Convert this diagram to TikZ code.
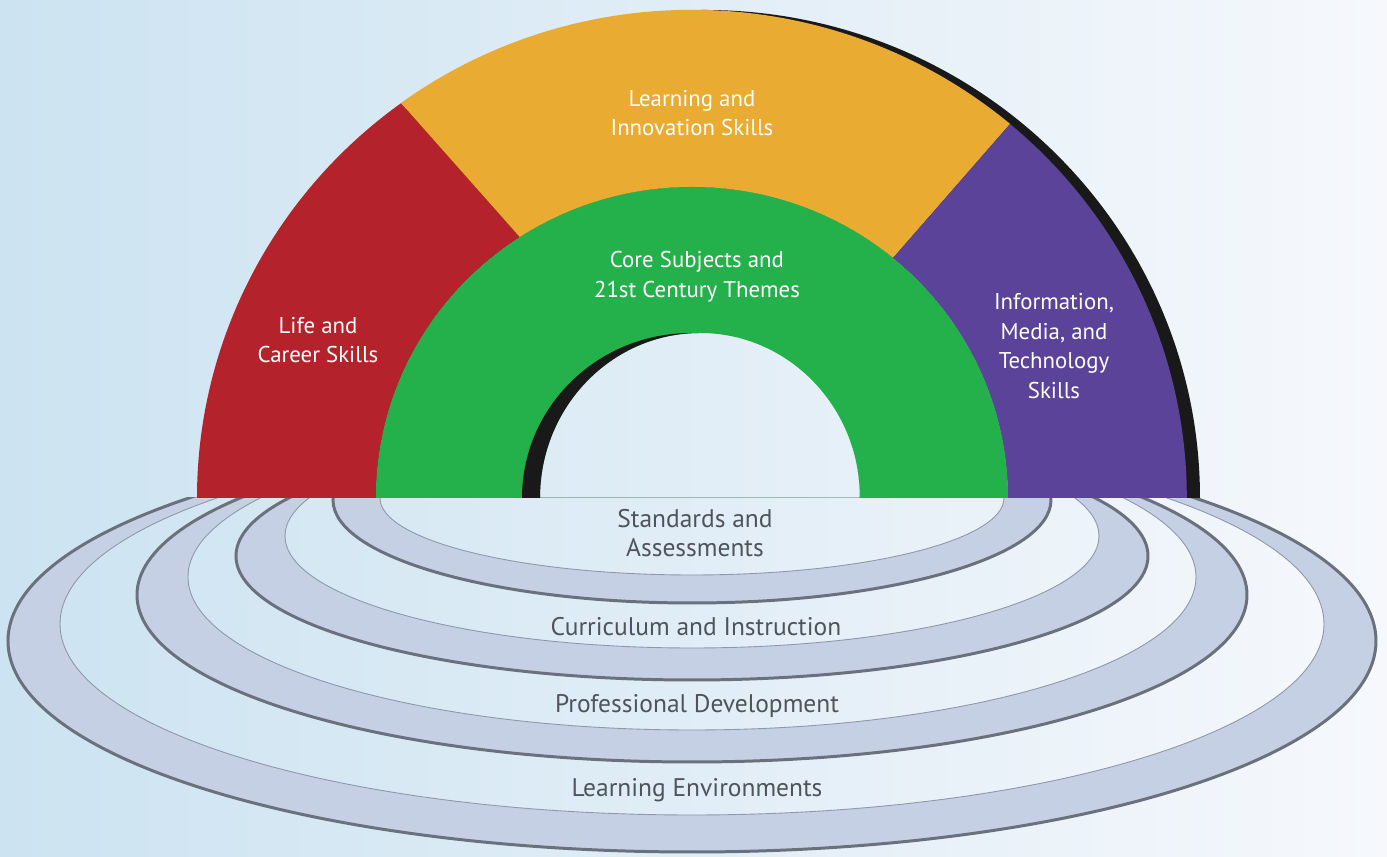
\documentclass[tikz,border=0pt]{standalone}
\usepackage{fontspec}
\setmainfont{PT Sans}
\definecolor{lifered}{HTML}{B4232C}
\definecolor{learnyellow}{HTML}{E9AB32}
\definecolor{coregreen}{HTML}{24B14B}
\definecolor{mediapurple}{HTML}{5A4398}
\definecolor{ringfill}{HTML}{C6D0E4}
\definecolor{ringedge}{HTML}{6B717C}
\definecolor{ringline}{HTML}{8F97A8}
\definecolor{ringgray}{HTML}{4F545C}
\definecolor{bgleft}{HTML}{CCE3F1}
\definecolor{bgright}{HTML}{F6F8FC}
\begin{document}
\begin{tikzpicture}[x=0.02cm, y=0.02cm,
        archtext/.style={text=white, align=center, font=\fontsize{13}{17}\selectfont},
        ringtext/.style={text=ringgray, align=center, font=\fontsize{14.5}{16.5}\selectfont},
        ringband/.style={fill=ringfill, even odd rule},
        ringrim/.style={draw=ringedge, line width=1.7pt},
        ringinner/.style={draw=ringline, line width=0.5pt}]
        \useasboundingbox (-692,-359) rectangle (695,498) ;
        \shade[left color=bgleft, right color=bgright] (-692,-359) rectangle (695,498) ;
        % the four rings under the arch
        \begin{scope}
        \clip (-692,-359) rectangle (695,0) ;
        \fill[ringband] (0,-143) ellipse [x radius=684, y radius=211] (0,-126) ellipse [x radius=632, y radius=191] ;
        \draw[ringrim] (0,-143) ellipse [x radius=684, y radius=211] ;
        \draw[ringinner] (0,-126) ellipse [x radius=632, y radius=191] ;
        \fill[ringband] (0,-97) ellipse [x radius=555, y radius=167] (0,-79) ellipse [x radius=504, y radius=153] ;
        \draw[ringrim] (0,-97) ellipse [x radius=555, y radius=167] ;
        \draw[ringinner] (0,-79) ellipse [x radius=504, y radius=153] ;
        \fill[ringband] (0,-58) ellipse [x radius=456, y radius=124] (0,-38) ellipse [x radius=407, y radius=112] ;
        \draw[ringrim] (0,-58) ellipse [x radius=456, y radius=124] ;
        \draw[ringinner] (0,-38) ellipse [x radius=407, y radius=112] ;
        \fill[ringband] (0,-2) ellipse [x radius=359, y radius=103] (0,0) ellipse [x radius=312, y radius=77] ;
        \draw[ringrim] (0,-2) ellipse [x radius=359, y radius=103] ;
        \draw[ringinner] (0,0) ellipse [x radius=312, y radius=77] ;
        \end{scope}
        % the arch
        \fill[black!90, even odd rule] (-482,0) arc[start angle=180, end angle=0, x radius=495, y radius=488] -- cycle (-316,0) arc[start angle=180, end angle=0, x radius=316, y radius=311] -- cycle ;
        \fill[lifered] (-495,0) arc[start angle=180, end angle=126, x radius=495, y radius=488] -- (-172,261) arc[start angle=123, end angle=180, x radius=316, y radius=311] -- cycle ;
        \fill[learnyellow] (-291,395) arc[start angle=126, end angle=50, x radius=495, y radius=488] -- (201,240) arc[start angle=50.5, end angle=123, x radius=316, y radius=311] -- cycle ;
        \fill[mediapurple] (318,374) arc[start angle=50, end angle=0, x radius=495, y radius=488] -- (316,0) arc[start angle=0, end angle=50.5, x radius=316, y radius=311] -- cycle ;
        \fill[coregreen, even odd rule] (-316,0) arc[start angle=180, end angle=0, x radius=316, y radius=311] -- cycle (-152,0) arc[start angle=180, end angle=0, x radius=160, y radius=165] -- cycle ;
        \begin{scope}
        \clip (-170,0) arc[start angle=180, end angle=0, x radius=169, y radius=165] -- cycle ;
        \fill[black!90, even odd rule] (-200,0) rectangle (200,200) (-152,0) arc[start angle=180, end angle=0, x radius=160, y radius=165] -- cycle ;
        \end{scope}
        % labels
        \node[archtext] (learning) at (0,385) {Learning and\\Innovation Skills} ;
        \node[archtext] (core) at (5,221) {Core Subjects and\\21st Century Themes} ;
        \node[archtext] (life) at (-374,158) {Life and\\Career Skills} ;
        \node[archtext] (media) at (362,152) {Information,\\Media, and\\Technology\\Skills} ;
        \node[ringtext] (standards) at (3,-35) {Standards and\\Assessments} ;
        \node[ringtext] (curriculum) at (4,-129) {Curriculum and Instruction} ;
        \node[ringtext] (profdev) at (5,-208) {Professional Development} ;
        \node[ringtext] (environments) at (5,-292) {Learning Environments} ;
\end{tikzpicture}
\end{document}
